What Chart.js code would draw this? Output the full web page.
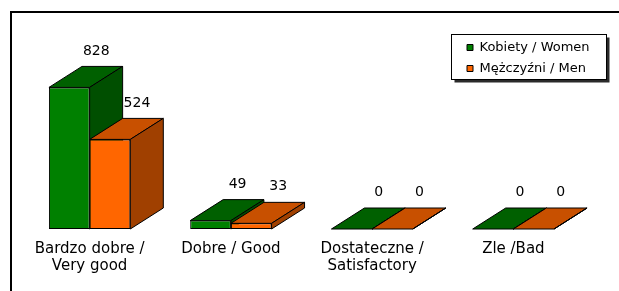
<!DOCTYPE html>
<html lang="pl">
<head>
<meta charset="UTF-8">
<title>Ocena / Rating</title>
<style>
    body {
        margin: 0;
        background: #fff;
    }
    .wrap {
        position: relative;
        width: 619px;
        height: 291px;
        overflow: hidden;
    }
    /* only the top and left edges of the outer frame are inside the picture */
    .frame {
        position: absolute;
        left: 10px;
        top: 11px;
        width: 700px;
        height: 400px;
        border-left: 2px solid #000;
        border-top: 2px solid #000;
    }
    canvas {
        position: absolute;
        left: 0;
        top: 0;
    }
</style>
</head>
<body>
<div class="wrap">
    <div class="frame"></div>
    <canvas id="chart" width="619" height="291"></canvas>
</div>
<script src="https://cdn.jsdelivr.net/npm/chart.js"></script>
<script>
const categories = [['Bardzo dobre /', 'Very good'], 'Dobre / Good', ['Dostateczne /', 'Satisfactory'], 'Zle /Bad'];
const seriesNames = ['Kobiety / Women', 'Mężczyźni / Men'];
const women = [828, 49, 0, 0];
const men = [524, 33, 0, 0];

const FONT = 'DejaVu Sans';
const DX = 33, DY = 21;   // depth of the 3d boxes
const faces = [
    { front: '#008000', top: '#006000', side: '#004f00' },
    { front: '#ff6600', top: '#c85000', side: '#a04000' }
];

function poly(ctx, pts, fill) {
    ctx.beginPath();
    ctx.moveTo(pts[0][0], pts[0][1]);
    for (let i = 1; i < pts.length; i++) ctx.lineTo(pts[i][0], pts[i][1]);
    ctx.closePath();
    ctx.fillStyle = fill;
    ctx.fill();
    ctx.stroke();
}

// top and side faces go under the fronts that chart.js draws
const bars3d = {
    id: 'bars3d',
    beforeDatasetsDraw(chart) {
        const ctx = chart.ctx;
        const metas = [chart.getDatasetMeta(0), chart.getDatasetMeta(1)];
        ctx.save();
        ctx.strokeStyle = '#000';
        ctx.lineWidth = 1;
        for (let i = 0; i < categories.length; i++) {
            metas.forEach((meta, d) => {
                const b = meta.data[i].getProps(['x', 'y', 'base', 'width'], true);
                const l = b.x - b.width / 2, r = b.x + b.width / 2;
                const t = Math.min(b.y, b.base), bot = Math.max(b.y, b.base);
                poly(ctx, [[l, t], [l + DX, t - DY], [r + DX, t - DY], [r, t]], faces[d].top);
                poly(ctx, [[r, t], [r + DX, t - DY], [r + DX, bot - DY], [r, bot]], faces[d].side);
            });
        }
        ctx.restore();
    },
    afterDatasetsDraw(chart) {
        const ctx = chart.ctx;
        ctx.save();
        ctx.font = '14px "' + FONT + '"';
        ctx.fillStyle = '#000';
        ctx.textAlign = 'center';
        ctx.textBaseline = 'middle';
        chart.data.datasets.forEach((ds, d) => {
            chart.getDatasetMeta(d).data.forEach((bar, i) => {
                const p = bar.getProps(['x', 'y'], true);
                ctx.fillText(String(ds.data[i]), p.x + 27, p.y - DY - 15.5);
            });
        });
        ctx.restore();
    }
};

// legend sits in the upper right corner inside a framed box with a shadow
const legendBox = {
    id: 'legendBox',
    afterLayout(chart) {
        const lg = chart.legend;
        lg.left = 459;
        lg.top = 33;
        lg.right = lg.left + lg.width;
        lg.bottom = lg.top + lg.height;
    },
    beforeDraw(chart) {
        const ctx = chart.ctx;
        const x = 451.5, y = 34.5, w = 155, h = 45;
        ctx.save();
        ctx.fillStyle = '#2a2a2a';
        ctx.fillRect(x + 3, y + 3, w, h);
        ctx.fillStyle = '#fff';
        ctx.fillRect(x, y, w, h);
        ctx.strokeStyle = '#000';
        ctx.lineWidth = 1;
        ctx.strokeRect(x, y, w, h);
        ctx.restore();
    }
};

new Chart(document.getElementById('chart'), {
    type: 'bar',
    data: {
        labels: categories,
        datasets: [
            {
                label: seriesNames[0],
                data: women,
                backgroundColor: faces[0].front,
                borderColor: '#000',
                borderWidth: 1,
                borderSkipped: false
            },
            {
                label: seriesNames[1],
                data: men,
                backgroundColor: faces[1].front,
                borderColor: '#000',
                borderWidth: 1,
                borderSkipped: false
            }
        ]
    },
    options: {
        responsive: false,
        animation: false,
        categoryPercentage: 0.576,
        barPercentage: 1,
        layout: {
            padding: { left: 19, right: 35, top: 58, bottom: 0 }
        },
        plugins: {
            tooltip: { enabled: false },
            legend: {
                position: 'chartArea',
                align: 'start',
                labels: {
                    boxWidth: 6,
                    boxHeight: 6,
                    padding: 8,
                    color: '#000',
                    font: { family: FONT, size: 13 }
                }
            }
        },
        scales: {
            x: {
                grid: { display: false },
                border: { display: false },
                ticks: {
                    color: '#000',
                    padding: 4,
                    maxRotation: 0,
                    autoSkip: false,
                    font: { family: FONT, size: 15, lineHeight: 1.1 }
                },
                afterFit(scale) {
                    scale.height = 62;
                }
            },
            y: {
                display: false,
                min: 0,
                max: 1000
            }
        }
    },
    plugins: [bars3d, legendBox]
});
</script>
</body>
</html>
